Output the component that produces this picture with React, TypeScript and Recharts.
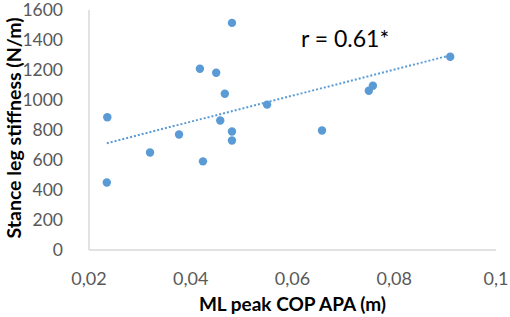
import React from "react";
import { ScatterChart, Scatter, XAxis, YAxis, Label } from "recharts";

const copApa = [0.0235, 0.0236, 0.032, 0.0377, 0.0424, 0.0418, 0.045, 0.0467, 0.0458, 0.0481, 0.0481, 0.0481, 0.055, 0.0658, 0.075, 0.0758, 0.091];
const stiffness = [450, 885, 650, 770, 591, 1208, 1182, 1042, 863, 1514, 790, 730, 969, 797, 1062, 1095, 1288];

const trendX = [0.0235, 0.091];
const trendY = [712, 1298];

const xTicks = [0.02, 0.04, 0.06, 0.08, 0.1];
const yTicks = [0, 200, 400, 600, 800, 1000, 1200, 1400, 1600];

const points = copApa.map((x, i) => ({ x, y: stiffness[i] }));
const trend = trendX.map((x, i) => ({ x, y: trendY[i] }));

const BLUE = "#5b9bd5";
const FONT = "Lato, 'Open Sans', sans-serif";

const fmtX = (v: number) => String(v).replace(".", ",");

export default function App() {
  return (
    <div style={{ position: "absolute", left: 0, top: 0, width: 510, height: 317, background: "#fff", fontFamily: FONT }}>
      <ScatterChart width={510} height={317} margin={{ top: 10, right: 14, bottom: 0, left: 0 }}>
        <XAxis
          type="number"
          dataKey="x"
          domain={[0.02, 0.1]}
          ticks={xTicks}
          interval={0}
          tickFormatter={fmtX}
          tickLine={false}
          axisLine={{ stroke: "#d9d9d9", strokeWidth: 1.5 }}
          tick={{ fill: "#595959", fontSize: 18, fontFamily: FONT }}
          tickMargin={16}
          height={67}
        >
          <Label
            value="ML peak COP APA (m)"
            position="insideBottom"
            offset={6}
            style={{ fill: "#000", fontWeight: 700, fontSize: 19, fontFamily: FONT }}
          />
        </XAxis>
        <YAxis
          type="number"
          dataKey="y"
          domain={[0, 1600]}
          ticks={yTicks}
          interval={0}
          tickLine={false}
          axisLine={{ stroke: "#d9d9d9", strokeWidth: 1.5 }}
          tick={{ fill: "#595959", fontSize: 17.5, fontFamily: FONT }}
          tickMargin={20}
          width={89}
        >
          <Label
            content={() => (
              <text
                x={13}
                y={128}
                transform="rotate(-90 13 128)"
                textAnchor="middle"
                dominantBaseline="central"
                style={{ fill: "#000", fontWeight: 700, fontSize: 19.5, fontFamily: FONT }}
              >
                Stance leg stiffness (N/m)
              </text>
            )}
          />
        </YAxis>
        <Scatter
          data={trend}
          line={{ stroke: BLUE, strokeWidth: 2, strokeDasharray: "2 2" }}
          shape={() => <g />}
          isAnimationActive={false}
        />
        <Scatter data={points} fill={BLUE} isAnimationActive={false} shape={(p: any) => <circle cx={p.cx} cy={p.cy} r={4.2} fill={BLUE} />} />
      </ScatterChart>
      <div style={{ position: "absolute", left: 301, top: 24, fontSize: 23, color: "#000", fontFamily: FONT, lineHeight: "28px" }}>
        r = 0.61*
      </div>
    </div>
  );
}
